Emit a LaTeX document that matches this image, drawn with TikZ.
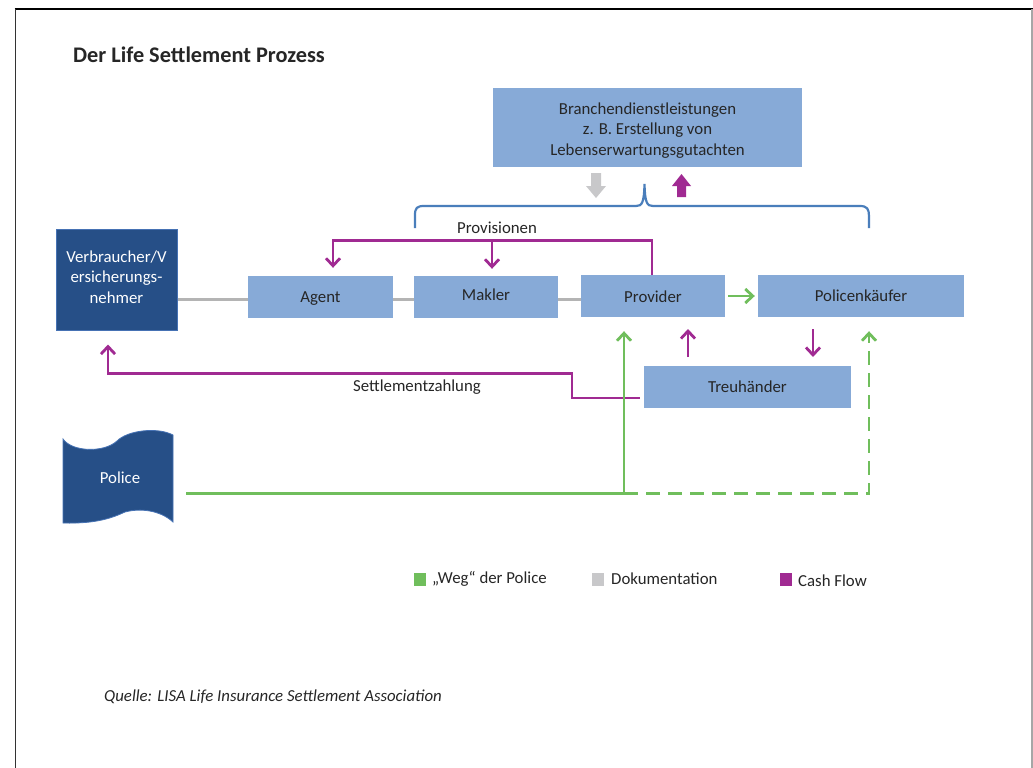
\documentclass[tikz,border=0pt]{standalone}
\usepackage{fontspec}
\setmainfont{Carlito}
\usetikzlibrary{arrows.meta}
\definecolor{boxblue}{RGB}{135,170,215}
\definecolor{darkblue}{RGB}{38,79,135}
\definecolor{darkblueedge}{RGB}{70,114,180}
\definecolor{cashpurple}{RGB}{160,42,146}
\definecolor{wegreen}{RGB}{112,190,92}
\definecolor{docgray}{RGB}{200,200,202}
\definecolor{linegray}{RGB}{180,180,180}
\definecolor{braceblue}{RGB}{74,126,187}
\definecolor{txt}{RGB}{38,38,38}
\newcommand\myfs{\fontsize{16.8pt}{20.8pt}\selectfont}
\begin{document}
\begin{tikzpicture}[x=1pt,y=-1pt,
  lbox/.style={fill=boxblue,draw=none,text=txt,align=center,inner sep=0pt,font=\myfs},
  onebox/.style={lbox,text height=14.5pt,text depth=3.5pt},
  dbox/.style={fill=darkblue,draw=darkblueedge,line width=1pt,text=white,align=center,inner sep=0pt,font=\myfs},
  lbl/.style={text=txt,font=\myfs,inner sep=0pt},
  parrow/.style={draw=cashpurple,line width=2.8pt,-{Straight Barb[length=7.5pt,width=14pt]}},
  pline/.style={draw=cashpurple,line width=2.8pt},
  garrow/.style={draw=wegreen,line width=2.8pt,-{Straight Barb[length=7.5pt,width=14pt]}},
  gline/.style={draw=wegreen,line width=2.8pt},
  grayline/.style={draw=linegray,line width=3pt},
  legsq/.style={minimum width=12pt,minimum height=13pt,inner sep=0pt,draw=none}]
\useasboundingbox (0,0) rectangle (1033,768);
\fill[white] (0,0) rectangle (1033,768);
% frame
\draw[black,line width=2pt] (14.5,9) -- (1032.5,9);
\draw[black!80,line width=1.5pt] (15.5,9) -- (15.5,768);
\draw[black!35,line width=1.5pt] (1032,9) -- (1032,768);

% title
\node[anchor=west,inner sep=0pt,text=txt,font=\fontsize{22.3pt}{26pt}\selectfont\bfseries] (title) at (73,55) {Der Life Settlement Prozess};

% boxes
\node[lbox,minimum width=309pt,minimum height=79pt] (branch) at (647.5,127.5) {\rule{0pt}{17.5pt}Branchendienstleistungen\\z. B. Erstellung von\\Lebenserwartungsgutachten};
\node[dbox,minimum width=121pt,minimum height=101pt] (verb) at (116.5,279.5) {Verbraucher/V\\ersicherungs-\\nehmer\rule[-5pt]{0pt}{5pt}};
\node[onebox,minimum width=145pt,minimum height=42pt] (agent) at (320.5,297) {Agent};
\node[onebox,text height=9.5pt,minimum width=144pt,minimum height=42pt] (makler) at (486,297) {Makler};
\node[onebox,text height=16.5pt,minimum width=144pt,minimum height=42pt] (provider) at (653,296) {Provider};
\node[onebox,minimum width=206pt,minimum height=42pt] (kaeufer) at (861,296) {Policenkäufer};
\node[onebox,minimum width=207pt,minimum height=42pt] (treu) at (747.5,387) {Treuhänder};

% police shape
\fill[darkblue,draw=darkblueedge,line width=0.8pt] (63,439) .. controls (72,452) and (104,453) .. (117,441)
  .. controls (128,430) and (158,427) .. (173,435) -- (173,522)
  .. controls (160,510) and (140,508) .. (125,512)
  .. controls (114,517) and (98,524) .. (63,523) -- cycle;
\node[text=white,font=\myfs,inner sep=0pt] (police) at (120,478) {Police};

% block arrows
\fill[docgray] (591,173) -- (601,173) -- (601,186) -- (606,186) -- (596,198) -- (586,186) -- (591,186) -- cycle;
\fill[cashpurple] (677,197) -- (686,197) -- (686,186) -- (691,186) -- (681.5,174) -- (672,186) -- (677,186) -- cycle;

% brace
\draw[braceblue,line width=2.2pt] (415,228) -- (415,215) .. controls (415,208) and (417,206) .. (424,206)
  -- (636,206) .. controls (642,206) and (644,203) .. (644.5,184)
  .. controls (645,203) and (647,206) .. (653,206) -- (860,206)
  .. controls (867,206) and (869,209) .. (869,216) -- (869,228);

% gray connectors
\draw[grayline] ([yshift=-2pt]verb.east |- agent.west) -- ([yshift=-2pt]agent.west);
\draw[grayline] ([yshift=-2pt]agent.east) -- ([yshift=-2pt]makler.west);
\draw[grayline] ([yshift=-2pt]makler.east) -- ([yshift=-2pt]makler.east -| provider.west);

% green provider -> kaeufer
\draw[garrow,shorten <=3pt,shorten >=3pt] (provider.east) -- (provider.east -| kaeufer.west);

% Provisionen
\node[lbl] (provlbl) at (497,228) {Provisionen};
\coordinate (provsplit) at (492,241);
\draw[parrow] ([xshift=-1pt]provider.north) -- ++(0,-34) -| ([xshift=12.5pt,yshift=8pt]agent.north);
\draw[parrow] (provsplit) -- ([xshift=6pt,yshift=7pt]makler.north);

% Treuhaender arrows
\coordinate (t1) at (688,357);
\coordinate (t2) at (688,329);
\draw[parrow] (t1) -- (t2);
\coordinate (k1) at (813,329);
\coordinate (k2) at (813,357);
\draw[parrow] (k1) -- (k2);

% Settlementzahlung
\draw[parrow] ([xshift=-4pt,yshift=-11pt]treu.west) -- (572,398) -- (572,373.5) -- (108,373.5) -- ([xshift=-8.5pt,yshift=-14pt]verb.south);
\node[lbl] (settle) at (417,387) {Settlementzahlung};

% green Police paths
\coordinate (polout) at (186,493.5);
\coordinate (polsplit) at (624,493.5);
\draw[gline] (polout) -- (polsplit);
\draw[garrow] (polsplit) -- ([xshift=-29pt,yshift=-14pt]provider.south);
\draw[garrow,dash pattern=on 14pt off 8pt] (polsplit) -- (869,493.5) -- ([xshift=8pt,yshift=-14pt]kaeufer.south);

% legend
\node[legsq,fill=wegreen] (lg1) at (419.5,579) {};
\node[lbl,anchor=west] (lg1t) at (432,579) {„Weg“ der Police};
\node[legsq,fill=docgray] (lg2) at (597.5,579) {};
\node[lbl,anchor=west] (lg2t) at (611,579) {Dokumentation};
\node[legsq,fill=cashpurple] (lg3) at (786,579.5) {};
\node[lbl,anchor=west] (lg3t) at (798,580.5) {Cash Flow};

% source
\node[lbl,anchor=west,font=\myfs\itshape] (src) at (104,697) {Quelle: LISA Life Insurance Settlement Association};
\end{tikzpicture}
\end{document}
